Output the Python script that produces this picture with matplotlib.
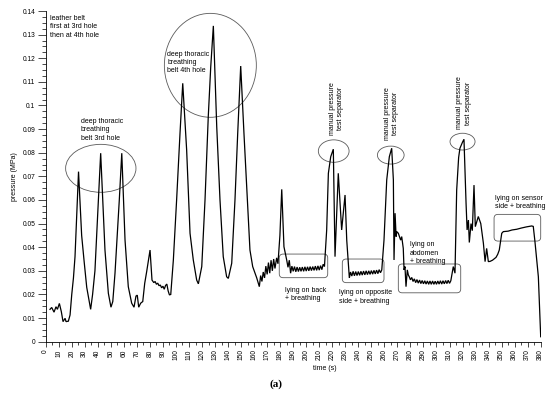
import matplotlib
matplotlib.use("Agg")
import matplotlib.pyplot as plt
from matplotlib.patches import Ellipse, FancyBboxPatch
from matplotlib.ticker import MultipleLocator

plt.rcParams['font.family'] = ['Liberation Sans', 'DejaVu Sans']

# ---- data ----
time_s = [3.3, 4.6, 6.4, 7.9, 9.0, 10.5, 12.0, 13.3, 14.9, 15.6, 17.4, 18.7, 20.0, 21.3, 22.5, 25.2,
          27.6, 29.5, 31.5, 34.5, 36.0, 37.8, 40.4, 42.2,
          45.5, 48.1, 50.1, 51.5, 53.2, 56.5, 58.4,
          60.9, 63.4, 66.0, 67.8, 69.3, 70.3, 71.4, 72.9, 74.5, 76.0, 77.5, 80.1,
          81.6, 83.0, 84.0, 85.0, 86.0, 87.0, 88.0, 89.0, 90.0, 91.0, 92.0, 93.0, 94.0, 95.0, 96.0,
          98.0, 100.5, 103.1, 105.2,
          108.2, 110.8, 113.3, 115.9, 117.2, 119.8, 122.3, 124.8, 126.7, 128.7,
          131.3, 133.8, 136.3, 138.9, 140.2, 142.8, 145.3, 147.4, 149.7,
          152.2, 154.8, 156.8, 158.9, 162.0, 164.0, 165.0, 166.0, 167.0, 168.0, 169.0, 170.0,
          171.0, 172.0, 173.0, 174.0, 175.0, 176.0, 177.3, 178.3, 179.8, 181.2, 182.9, 185.0,
          186.0, 187.0, 188.0, 189.0, 190.0, 191.0, 192.0, 193.0, 194.0, 195.0, 196.0, 197.0,
          198.0, 199.0, 200.0, 201.0, 202.0, 203.0, 204.0, 205.0, 206.0, 207.0, 208.0, 209.0,
          210.0, 211.0, 212.0, 213.0, 214.0, 215.7, 217.0, 218.8, 220.8, 222.1, 224.6, 227.2,
          229.8, 231.1, 233.1,
          234.0, 235.0, 236.0, 237.0, 238.0, 239.0, 240.0, 241.0, 242.0, 243.0, 244.0, 245.0,
          246.0, 247.0, 248.0, 249.0, 250.0, 251.0, 252.0, 253.0, 254.0, 255.0, 256.0, 257.0,
          258.0, 259.7, 261.8, 263.8, 265.6, 266.9, 267.4, 268.2, 269.0, 269.5, 270.7, 272.5,
          273.3, 274.5, 275.1, 275.8, 276.6, 277.6, 278.4, 279.1,
          280.0, 281.0, 282.0, 283.0, 284.0, 285.0, 286.0, 287.0, 288.0, 289.0, 290.0, 291.0,
          292.0, 293.0, 294.0, 295.0, 296.0, 297.0, 298.0, 299.0, 300.0, 301.0, 302.0, 303.0,
          304.0, 305.0, 306.0, 307.0, 308.0, 309.0, 310.0, 311.0, 312.9, 314.2, 315.5, 317.0,
          318.0, 320.0, 321.1, 322.7, 323.5, 324.5, 325.2, 326.5, 327.5, 328.8, 329.8, 331.0,
          332.1, 334.0, 336.0, 337.3, 338.5, 339.8, 341.1, 343.0, 345.7, 347.0, 348.2, 349.3,
          350.1, 351.3, 355.0, 358.0, 361.6, 365.0, 369.0, 373.1, 374.3, 375.6, 378.2, 380.0]

pressure_mpa = [0.0137, 0.0145, 0.0125, 0.0148, 0.0137, 0.0162, 0.0127, 0.0085, 0.0099, 0.0085, 0.0087, 0.0113, 0.0200, 0.0270, 0.0360, 0.0720,
                0.0450, 0.0340, 0.0230, 0.0137, 0.0200, 0.0300, 0.0600, 0.0798,
                0.0388, 0.0205, 0.0146, 0.0170, 0.0290, 0.0600, 0.0798,
                0.0430, 0.0233, 0.0163, 0.0146, 0.0193, 0.0197, 0.0146, 0.0163, 0.0170, 0.0247, 0.0296, 0.0388,
                0.0261, 0.0250, 0.0255, 0.0243, 0.0248, 0.0237, 0.0240, 0.0228, 0.0235, 0.0222, 0.0238, 0.0244, 0.0215, 0.0198, 0.0200,
                0.0346, 0.0600, 0.0882, 0.1094,
                0.0812, 0.0459, 0.0346, 0.0261, 0.0245, 0.0318, 0.0600, 0.0953, 0.1164, 0.1337,
                0.0910, 0.0600, 0.0360, 0.0275, 0.0268, 0.0332, 0.0600, 0.0882, 0.1167,
                0.0882, 0.0600, 0.0388, 0.0318, 0.0270, 0.0233, 0.0280, 0.0255, 0.0295, 0.0270, 0.0320, 0.0285,
                0.0335, 0.0290, 0.0345, 0.0300, 0.0350, 0.0310, 0.0355, 0.0330, 0.0450, 0.0645, 0.0402, 0.0346,
                0.0315, 0.0345, 0.0290, 0.0320, 0.0298, 0.0318, 0.0296, 0.0316, 0.0297, 0.0315, 0.0298, 0.0316,
                0.0298, 0.0317, 0.0299, 0.0317, 0.0300, 0.0318, 0.0301, 0.0318, 0.0302, 0.0320, 0.0302, 0.0321,
                0.0303, 0.0322, 0.0305, 0.0328, 0.0318, 0.0473, 0.0713, 0.0783, 0.0815, 0.0360, 0.0713, 0.0473,
                0.0621, 0.0430, 0.0270,
                0.0295, 0.0278, 0.0298, 0.0279, 0.0297, 0.0280, 0.0297, 0.0281, 0.0298, 0.0282, 0.0299, 0.0283,
                0.0300, 0.0284, 0.0300, 0.0285, 0.0301, 0.0286, 0.0302, 0.0287, 0.0303, 0.0288, 0.0305, 0.0292,
                0.0304, 0.0430, 0.0685, 0.0783, 0.0819, 0.0685, 0.0346, 0.0544, 0.0445, 0.0466, 0.0459, 0.0430,
                0.0445, 0.0395, 0.0304, 0.0318, 0.0233, 0.0304, 0.0282, 0.0275,
                0.0262, 0.0272, 0.0255, 0.0266, 0.0250, 0.0263, 0.0248, 0.0261, 0.0246, 0.0259, 0.0245, 0.0258,
                0.0244, 0.0257, 0.0243, 0.0257, 0.0243, 0.0257, 0.0243, 0.0256, 0.0243, 0.0257, 0.0244, 0.0258,
                0.0244, 0.0258, 0.0245, 0.0259, 0.0246, 0.0260, 0.0247, 0.0258, 0.0318, 0.0290, 0.0642, 0.0780,
                0.0819, 0.0845, 0.0857, 0.0586, 0.0473, 0.0515, 0.0420, 0.0500, 0.0470, 0.0663, 0.0487, 0.0510,
                0.0530, 0.0500, 0.0417, 0.0339, 0.0395, 0.0339, 0.0340, 0.0345, 0.0357, 0.0370, 0.0388, 0.0430,
                0.0459, 0.0466, 0.0468, 0.0473, 0.0476, 0.0481, 0.0486, 0.0490, 0.0488, 0.0423, 0.0275, 0.0021]

x_ticks = list(range(0, 381, 10))
y_ticks = [0, 0.01, 0.02, 0.03, 0.04, 0.05, 0.06, 0.07, 0.08, 0.09, 0.1, 0.11, 0.12, 0.13, 0.14]
y_tick_labels = ["0", "0.01", "0.02", "0.03", "0.04", "0.05", "0.06", "0.07", "0.08", "0.09",
                 "0.1", "0.11", "0.12", "0.13", "0.14"]

# ---- figure ----
fig = plt.figure(figsize=(5.5, 3.95), dpi=100)
ax = fig.add_axes([45.7 / 550, 1 - 341.7 / 395, (540.7 - 45.7) / 550, (341.7 - 11) / 395])

ax.plot(time_s, pressure_mpa, color='black', lw=0.9, solid_joinstyle='miter')

ax.set_xlim(0, 380)
ax.set_ylim(0, 0.14)
for s in ['top', 'right']:
    ax.spines[s].set_visible(False)
for s in ['left', 'bottom']:
    ax.spines[s].set_linewidth(0.6)

ax.set_xticks(x_ticks)
ax.set_xticklabels([str(v) for v in x_ticks], rotation=90, fontsize=4.8)
ax.set_yticks(y_ticks)
ax.set_yticklabels(y_tick_labels, fontsize=4.8)
ax.xaxis.set_minor_locator(MultipleLocator(5))
ax.yaxis.set_minor_locator(MultipleLocator(0.0025))
ax.tick_params(axis='x', which='major', length=3.5, width=0.5, pad=2)
ax.tick_params(axis='x', which='minor', length=2, width=0.5)
ax.tick_params(axis='y', which='major', length=5.5, width=0.5, pad=2)
ax.tick_params(axis='y', which='minor', length=3, width=0.5)

ax.set_xlabel("time (s)", fontsize=5)
ax.xaxis.set_label_coords((325 - 45.7) / 495, -0.07)
ax.set_ylabel("pressure (MPa)", fontsize=5, labelpad=3)

gray = '#5a5a5a'
tfs = 5

ax.text(3.5, 0.1383, "leather belt\nfirst at 3rd hole\nthen at 4th hole", fontsize=tfs, va='top', ha='left', linespacing=1.25)
ax.text(27, 0.0946, "deep thoracic\nbreathing\nbelt 3rd hole", fontsize=tfs, va='top', ha='left', linespacing=1.25)
ax.text(93.5, 0.1232, "deep thoracic\nbreathing\nbelt 4th hole", fontsize=tfs, va='top', ha='left', linespacing=1.25)

for (cx, cy, w, h) in [(42.3, 0.0734, 54, 0.0203), (126.4, 0.117, 70.6, 0.044),
                       (221.1, 0.0807, 23.6, 0.0095), (264.9, 0.079, 20.5, 0.0076),
                       (320.0, 0.0847, 19.2, 0.0071)]:
    ax.add_patch(Ellipse((cx, cy), w, h, fill=False, ec=gray, lw=0.6))

for (tx, ty) in [(223.2, 0.0875), (265.5, 0.0856), (321.1, 0.0899)]:
    ax.text(tx, ty, "manual pressure\ntest separator", rotation=90, fontsize=tfs,
            ha='center', va='bottom', linespacing=1.25)

aspect = (1 / 2362) / (1 / 1.3026)
for (x0, x1, y0, y1) in [(179.3, 216.5, 0.0271, 0.0371), (227.7, 259.7, 0.0250, 0.0350),
                         (270.7, 318.6, 0.0207, 0.0329), (344.2, 380.0, 0.0426, 0.0539)]:
    ax.add_patch(FancyBboxPatch((x0, y0), x1 - x0, y1 - y0,
                                boxstyle="round,pad=0,rounding_size=3",
                                mutation_aspect=aspect, fill=False, ec=gray, lw=0.6,
                                clip_on=False))

ax.text(183.7, 0.0233, "lying on back\n+ breathing", fontsize=tfs, va='top', ha='left', linespacing=1.25)
ax.text(225.4, 0.0222, "lying on opposite\nside + breathing", fontsize=tfs, va='top', ha='left', linespacing=1.25)
ax.text(279.7, 0.0425, "lying on\nabdomen\n+ breathing", fontsize=tfs, va='top', ha='left', linespacing=1.25)
ax.text(344.6, 0.0622, "lying on sensor\nside + breathing", fontsize=tfs, va='top', ha='left', linespacing=1.25)

fig.text(276 / 550, 1 - 384 / 395, "(a)", fontsize=8, fontweight='bold',
         family=['Liberation Serif', 'DejaVu Serif'], ha='center', va='center')

fig.savefig("out.png", dpi=100)
